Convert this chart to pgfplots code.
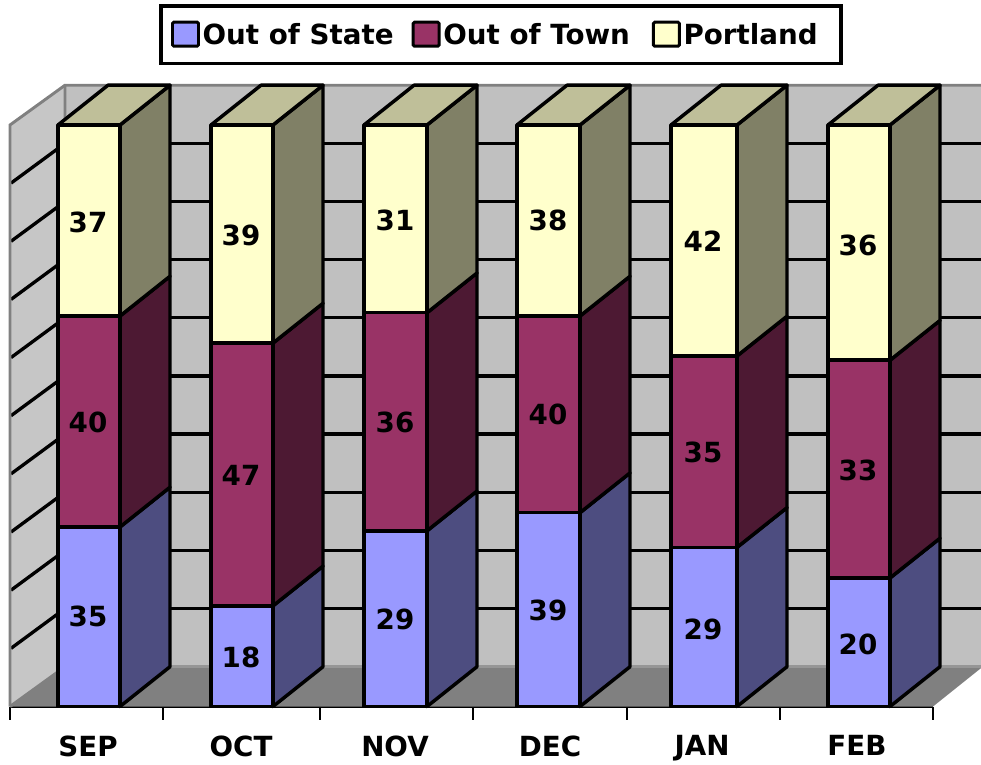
\documentclass[border=0pt]{standalone}
\usepackage{fontspec}
\setmainfont{DejaVu Sans}
\usepackage{pgfplots}
\pgfplotsset{compat=1.18}

\definecolor{statec}{HTML}{9999FF}
\definecolor{townc}{HTML}{993366}
\definecolor{portc}{HTML}{FFFFCC}
\definecolor{stateside}{HTML}{4D4D80}
\definecolor{townside}{HTML}{4D1933}
\definecolor{portside}{HTML}{808066}
\definecolor{topc}{HTML}{BFBF99}
\definecolor{sidewall}{HTML}{C6C6C6}
\definecolor{backwall}{HTML}{C0C0C0}
\definecolor{floorc}{HTML}{808080}
\definecolor{floorline}{HTML}{969696}
\newcommand{\lab}{\fontsize{20.8}{24}\selectfont\bfseries}

\begin{document}
\begin{tikzpicture}
\begin{axis}[
  name=a,
  scale only axis, width=692.25pt, height=436.125pt,
  xmin=10, xmax=933, ymin=0, ymax=100,
  clip=false,
  axis x line*=bottom, axis y line=none,
  x axis line style={-, line width=2.6pt, black},
  xtick={88,241,395,550,702,857},
  xticklabels={SEP,OCT,NOV,DEC,JAN,FEB},
  minor xtick={10,163,320,473,627,780,933},
  major tick length=0pt, minor tick length=10pt, tick align=outside,
  minor tick style={line width=2pt, black},
  xticklabel style={font=\lab, yshift=-18.4pt},
  unbounded coords=jump,
  wall/.style={draw=none, fill=#1, forget plot},
  edge/.style={draw=#1, line width=2.2pt, forget plot, mark=none},
  grl/.style={draw=black, line width=2.5pt, forget plot, mark=none},
  bar/.style={draw=black, line width=2.6pt, fill=#1, forget plot, mark=none, line join=round},
  legimg/.style={legend image code/.code={\draw[line width=2.2pt, rounded corners=1pt, ##1] (0pt,-8.5pt) rectangle (19.5pt,9.5pt);}},
  legend style={at={(0.532,1.155)}, anchor=center, draw=black, line width=2.8pt,
    font=\lab, inner xsep=7.5pt, inner ysep=10.75pt, legend columns=-1,
    /tikz/every even column/.append style={column sep=11.5pt}},
  legend cell align=left,
]
\addlegendimage{legimg, draw=black, fill=statec}
\addlegendimage{legimg, draw=black, fill=townc}
\addlegendimage{legimg, draw=black, fill=portc}
\legend{Out of State,Out of Town\rule{3pt}{0pt},Portland\rule{8pt}{0pt}}

% walls and floor
\addplot[wall=sidewall] coordinates {(10,0) (65,6.84) (65,106.84) (10,100)} --cycle;
\addplot[wall=backwall] coordinates {(65,6.84) (981,6.84) (981,106.84) (65,106.84)} --cycle;
\addplot[wall=floorc] coordinates {(10,0) (933,0) (981,6.6) (981,6.84) (65,6.84)} --cycle;

% gridlines, back wall then side wall
\addplot[grl] coordinates {
  (65,16.84) (981,16.84) (981,nan) (65,26.84) (981,26.84) (981,nan)
  (65,36.84) (981,36.84) (981,nan) (65,46.84) (981,46.84) (981,nan)
  (65,56.84) (981,56.84) (981,nan) (65,66.84) (981,66.84) (981,nan)
  (65,76.84) (981,76.84) (981,nan) (65,86.84) (981,86.84) (981,nan)
  (65,96.84) (981,96.84)};
\addplot[grl] coordinates {
  (11,10) (65,16.84) (65,nan) (11,20) (65,26.84) (65,nan)
  (11,30) (65,36.84) (65,nan) (11,40) (65,46.84) (65,nan)
  (11,50) (65,56.84) (65,nan) (11,60) (65,66.84) (65,nan)
  (11,70) (65,76.84) (65,nan) (11,80) (65,86.84) (65,nan)
  (11,90) (65,96.84)};
\addplot[edge=floorc] coordinates {(10,0) (10,100) (65,106.84) (981,106.84)};
\addplot[edge=floorc] coordinates {(65,106.84) (65,6.84) (10,0)};
\addplot[edge=floorline] coordinates {(65,6.84) (981,6.84)};

% SEP
\addplot[bar=stateside] coordinates {(120,0) (170,6.84) (170,37.71) (120,30.87)} --cycle;
\addplot[bar=townside] coordinates {(120,30.87) (170,37.71) (170,73.99) (120,67.15)} --cycle;
\addplot[bar=portside] coordinates {(120,67.15) (170,73.99) (170,106.84) (120,100)} --cycle;
\addplot[bar=topc] coordinates {(58,100) (120,100) (170,106.84) (108,106.84)} --cycle;
\addplot[bar=statec] coordinates {(58,0) (120,0) (120,30.87) (58,30.87)} --cycle;
\addplot[bar=townc] coordinates {(58,30.87) (120,30.87) (120,67.15) (58,67.15)} --cycle;
\addplot[bar=portc] coordinates {(58,67.15) (120,67.15) (120,100) (58,100)} --cycle;
% OCT
\addplot[bar=stateside] coordinates {(273,0) (323,6.84) (323,24.15) (273,17.31)} --cycle;
\addplot[bar=townside] coordinates {(273,17.31) (323,24.15) (323,69.34) (273,62.50)} --cycle;
\addplot[bar=portside] coordinates {(273,62.50) (323,69.34) (323,106.84) (273,100)} --cycle;
\addplot[bar=topc] coordinates {(211,100) (273,100) (323,106.84) (261,106.84)} --cycle;
\addplot[bar=statec] coordinates {(211,0) (273,0) (273,17.31) (211,17.31)} --cycle;
\addplot[bar=townc] coordinates {(211,17.31) (273,17.31) (273,62.50) (211,62.50)} --cycle;
\addplot[bar=portc] coordinates {(211,62.50) (273,62.50) (273,100) (211,100)} --cycle;
% NOV
\addplot[bar=stateside] coordinates {(427,0) (477,6.84) (477,37.05) (427,30.21)} --cycle;
\addplot[bar=townside] coordinates {(427,30.21) (477,37.05) (477,74.55) (427,67.71)} --cycle;
\addplot[bar=portside] coordinates {(427,67.71) (477,74.55) (477,106.84) (427,100)} --cycle;
\addplot[bar=topc] coordinates {(364,100) (427,100) (477,106.84) (414,106.84)} --cycle;
\addplot[bar=statec] coordinates {(364,0) (427,0) (427,30.21) (364,30.21)} --cycle;
\addplot[bar=townc] coordinates {(364,30.21) (427,30.21) (427,67.71) (364,67.71)} --cycle;
\addplot[bar=portc] coordinates {(364,67.71) (427,67.71) (427,100) (364,100)} --cycle;
% DEC
\addplot[bar=stateside] coordinates {(580,0) (630,6.84) (630,40.17) (580,33.33)} --cycle;
\addplot[bar=townside] coordinates {(580,33.33) (630,40.17) (630,73.99) (580,67.15)} --cycle;
\addplot[bar=portside] coordinates {(580,67.15) (630,73.99) (630,106.84) (580,100)} --cycle;
\addplot[bar=topc] coordinates {(517,100) (580,100) (630,106.84) (567,106.84)} --cycle;
\addplot[bar=statec] coordinates {(517,0) (580,0) (580,33.33) (517,33.33)} --cycle;
\addplot[bar=townc] coordinates {(517,33.33) (580,33.33) (580,67.15) (517,67.15)} --cycle;
\addplot[bar=portc] coordinates {(517,67.15) (580,67.15) (580,100) (517,100)} --cycle;
% JAN
\addplot[bar=stateside] coordinates {(737,0) (787,6.84) (787,34.20) (737,27.36)} --cycle;
\addplot[bar=townside] coordinates {(737,27.36) (787,34.20) (787,67.12) (737,60.28)} --cycle;
\addplot[bar=portside] coordinates {(737,60.28) (787,67.12) (787,106.84) (737,100)} --cycle;
\addplot[bar=topc] coordinates {(671,100) (737,100) (787,106.84) (721,106.84)} --cycle;
\addplot[bar=statec] coordinates {(671,0) (737,0) (737,27.36) (671,27.36)} --cycle;
\addplot[bar=townc] coordinates {(671,27.36) (737,27.36) (737,60.28) (671,60.28)} --cycle;
\addplot[bar=portc] coordinates {(671,60.28) (737,60.28) (737,100) (671,100)} --cycle;
% FEB
\addplot[bar=stateside] coordinates {(890,0) (940,6.84) (940,28.94) (890,22.10)} --cycle;
\addplot[bar=townside] coordinates {(890,22.10) (940,28.94) (940,66.39) (890,59.55)} --cycle;
\addplot[bar=portside] coordinates {(890,59.55) (940,66.39) (940,106.84) (890,100)} --cycle;
\addplot[bar=topc] coordinates {(828,100) (890,100) (940,106.84) (878,106.84)} --cycle;
\addplot[bar=statec] coordinates {(828,0) (890,0) (890,22.10) (828,22.10)} --cycle;
\addplot[bar=townc] coordinates {(828,22.10) (890,22.10) (890,59.55) (828,59.55)} --cycle;
\addplot[bar=portc] coordinates {(828,59.55) (890,59.55) (890,100) (828,100)} --cycle;

% value labels
\addplot[draw=none, mark=none, forget plot, nodes near coords, point meta=explicit symbolic,
  every node near coord/.append style={anchor=center, font=\lab, black, yshift=-0.75pt}]
  table[x=x, y=y, meta=v] {
x y v
88 15.6 35
88 49.1 40
88 83.5 37
241 8.7 18
241 39.9 47
241 81.25 39
395 15.1 29
395 49.0 36
395 83.85 31
548 16.7 39
548 50.4 40
548 83.8 38
703 13.4 29
703 43.9 35
703 80.2 42
858 10.9 20
858 40.7 33
858 79.5 36
};
\end{axis}
\pgfresetboundingbox
\path[use as bounding box] ([shift={(-7.5pt,-43.125pt)}]a.south west) rectangle ([shift={(36pt,93.75pt)}]a.north east);
\end{tikzpicture}
\end{document}
